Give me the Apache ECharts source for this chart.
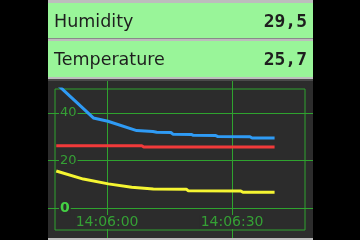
<!DOCTYPE html>
<html><head><meta charset="utf-8">
<script src="https://cdn.jsdelivr.net/npm/echarts@6/dist/echarts.min.js"></script>
<style>html,body{margin:0;padding:0;background:#000;}#c{width:360px;height:240px;}</style>
</head><body><div id="c"></div>
<script>
// Time offsets in seconds relative to 14:06:00
const baseClock = '14:06:00';
const xTickLabels = ['14:06:00', '14:06:30'];
const yTickValues = [0, 20, 40];

const humidityTimes  = [-12.2, -7.3, -3.3, 0.2, 7.1, 11.0, 11.9, 15.3, 15.8, 20.2, 20.7, 26.1, 26.6, 34.3, 34.8, 40.2];
const humidityValues = [52.3, 44.4, 37.9, 36.5, 32.6, 32.2, 31.9, 31.8, 31.1, 31.0, 30.6, 30.5, 30.1, 30.0, 29.5, 29.5];

const temperatureTimes  = [-12.2, 8.3, 8.8, 40.2];
const temperatureValues = [26.3, 26.3, 25.7, 25.7];

const dewTimes  = [-12.2, -5.7, 0.3, 5.9, 11.1, 19.0, 19.5, 32.1, 32.6, 40.2];
const dewValues = [15.7, 12.3, 10.3, 8.9, 8.2, 8.1, 7.4, 7.3, 6.8, 6.8];

const toSec = s => { const p = s.split(':').map(Number); return p[0]*3600 + p[1]*60 + p[2]; };
const base = toSec(baseClock);
const pad = n => String(n).padStart(2, '0');
const fmtTime = off => { let t = Math.round(base + off); return pad(Math.floor(t/3600)) + ':' + pad(Math.floor(t%3600/60)) + ':' + pad(t%60); };
const xTickValues = xTickLabels.map(s => toSec(s) - base);
const pairs = (xs, ys) => xs.map((x, i) => [x, ys[i]]);
const fmtVal = v => v.toFixed(1).replace('.', ',');

// layout (pixels)
const P = {l: 48, r: 313, t: 81, b: 238};     // chart panel
const F = {l: 55, r: 305, t: 89, b: 230};     // inner frame
const xRange = [-12.5, 47.5], yRange = [-9, 50];
const pxX = (F.r - F.l) / (xRange[1] - xRange[0]);
const pxY = (F.b - F.t) / (yRange[1] - yRange[0]);
const x0 = [xRange[0] - (F.l - P.l)/pxX, xRange[1] + (P.r - F.r)/pxX];
const y0 = [yRange[0] - (P.b - F.b)/pxY, yRange[1] + (F.t - P.t)/pxY];

const GREEN = '#99f599', GRID = '#2fa32f', BG = '#2c2c2c';
const chart = echarts.init(document.getElementById('c'));
chart.setOption({
  backgroundColor: '#000',
  animation: false,
  graphic: [
    {type: 'rect', z: -10, silent: true, shape: {x: P.l, y: 0, width: P.r - P.l, height: 240}, style: {fill: '#bdbdbd'}},
    {type: 'rect', z: -9, silent: true, shape: {x: P.l, y: 3, width: P.r - P.l, height: 35}, style: {fill: GREEN}},
    {type: 'rect', z: -9, silent: true, shape: {x: P.l, y: 38, width: P.r - P.l, height: 1}, style: {fill: '#8a8a8a'}},
    {type: 'rect', z: -9, silent: true, shape: {x: P.l, y: 41, width: P.r - P.l, height: 36}, style: {fill: GREEN}},
    {type: 'rect', z: -9, silent: true, shape: {x: P.l, y: 79, width: P.r - P.l, height: 2}, style: {fill: '#4a4a4a'}},
    {type: 'rect', z: -9, silent: true, shape: {x: P.l, y: P.t, width: P.r - P.l, height: P.b - P.t}, style: {fill: BG}},
    {type: 'text', z: 5, left: 54, top: 13, style: {text: 'Humidity', font: '17.5px "DejaVu Sans"', fill: '#1e1e1e'}},
    {type: 'text', z: 5, right: 360 - 307, top: 13, style: {text: fmtVal(humidityValues[humidityValues.length-1]), font: 'bold 18px "DejaVu Sans Mono"', fill: '#1e1e1e', align: 'right'}},
    {type: 'text', z: 5, left: 54, top: 51, style: {text: 'Temperature', font: '17.5px "DejaVu Sans"', fill: '#1e1e1e'}},
    {type: 'text', z: 5, right: 360 - 307, top: 51, style: {text: fmtVal(temperatureValues[temperatureValues.length-1]), font: 'bold 18px "DejaVu Sans Mono"', fill: '#1e1e1e', align: 'right'}}
  ],
  grid: [
    {left: P.l, top: P.t, width: P.r - P.l, height: P.b - P.t, containLabel: false, outerBoundsMode: 'none'},
    {left: F.l, top: F.t, width: F.r - F.l, height: F.b - F.t, containLabel: false, outerBoundsMode: 'none',
     show: true, borderColor: GRID, borderWidth: 1, backgroundColor: 'transparent'}
  ],
  xAxis: [
    {gridIndex: 0, type: 'value', min: x0[0], max: x0[1],
     axisLine: {show: false}, axisTick: {show: false, customValues: xTickValues},
     splitLine: {show: true, lineStyle: {color: GRID, width: 1}},
     axisLabel: {inside: true, margin: 9, customValues: xTickValues, formatter: v => fmtTime(v),
       color: '#35a035', fontFamily: 'DejaVu Sans', fontSize: 14, backgroundColor: BG, padding: [0, 1]}},
    {gridIndex: 1, type: 'value', min: xRange[0], max: xRange[1], show: false, splitLine: {show: false}}
  ],
  yAxis: [
    {gridIndex: 0, type: 'value', min: y0[0], max: y0[1],
     axisLine: {show: false}, axisTick: {show: false, customValues: yTickValues},
     splitLine: {show: true, lineStyle: {color: GRID, width: 1}},
     axisLabel: {inside: true, margin: 11, customValues: yTickValues,
       formatter: v => v === 0 ? '{z|0}' : '{n|' + v + '}',
       rich: {n: {color: '#35a035', fontFamily: 'DejaVu Sans', fontSize: 13},
              z: {color: '#44d044', fontFamily: 'DejaVu Sans', fontSize: 14, fontWeight: 'bold'}},
       backgroundColor: BG, padding: [0, 1]}},
    {gridIndex: 1, type: 'value', min: yRange[0], max: yRange[1], show: false, splitLine: {show: false}}
  ],
  series: [
    {name: 'Humidity', type: 'line', xAxisIndex: 1, yAxisIndex: 1, data: pairs(humidityTimes, humidityValues),
     showSymbol: false, clip: true, lineStyle: {color: '#2f9bf5', width: 3}, z: 3},
    {name: 'Temperature', type: 'line', xAxisIndex: 1, yAxisIndex: 1, data: pairs(temperatureTimes, temperatureValues),
     showSymbol: false, clip: true, lineStyle: {color: '#f23a3a', width: 3}, z: 3},
    {name: 'Dew point', type: 'line', xAxisIndex: 1, yAxisIndex: 1, data: pairs(dewTimes, dewValues),
     showSymbol: false, clip: true, lineStyle: {color: '#f5f532', width: 3}, z: 3}
  ]
});
</script></body></html>
